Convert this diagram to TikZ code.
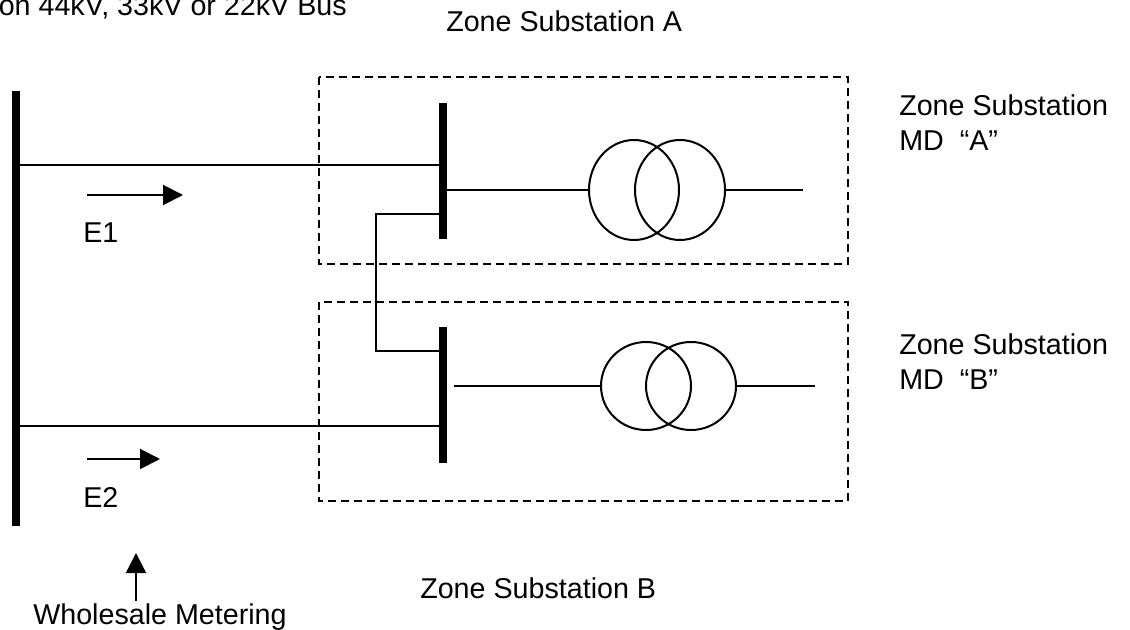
\documentclass[tikz,border=0pt]{standalone}
\usepackage{fontspec}
\setmainfont{Liberation Sans}
\usetikzlibrary{arrows,arrows.meta,shapes,positioning}

\begin{document}
\begin{tikzpicture}[x=0.75pt,y=-0.75pt]
    \tikzstyle{every node}+=[inner sep=0pt]
    \tikzstyle{txt}=[anchor=base west,font=\fontsize{21.5}{26}\selectfont]
    \tikzstyle{bus}=[fill=black,minimum width=6pt]
    \tikzstyle{wire}=[line width=1.5pt]
    \tikzstyle{zone}=[line width=1.5pt,dash pattern=on 6pt off 3.75pt]
    \tikzstyle{flow}=[line width=1.5pt,-{Triangle[length=15pt,width=15pt]}]
    \tikzstyle{tx}=[draw,ellipse,line width=1.5pt,minimum width=67.5pt,minimum height=75pt]
    \useasboundingbox (0,0) rectangle (1130,630);
    \clip (0,0) rectangle (1130,630);
    % zone boxes
    \draw[zone] (319,77) rectangle (848,264);
    \draw[zone] (319,302) rectangle (848,501);
    % bus bars
    \node[bus,minimum height=326.25pt] (busM) at (16,308.5) {};
    \node[bus,minimum height=102pt] (busA) at (443,171) {};
    \node[bus,minimum height=102pt] (busB) at (443,395) {};
    % transformers
    \node[tx] (tA1) at (634,190) {};
    \node[tx] (tA2) at (680,190) {};
    \node[tx,minimum height=66pt] (tB1) at (646,386) {};
    \node[tx,minimum height=66pt] (tB2) at (691,386) {};
    \coordinate (rowE1) at (0,165);
    \coordinate (rowE2) at (0,426);
    \coordinate (rowTie) at (0,214);
    \coordinate (tie) at (376,351);
    \coordinate (startB) at (454,386);
    \coordinate (endA) at (803,190);
    \coordinate (endB) at (815,386);
    % feeders
    \draw[wire] (busM |- rowE1) -- (busA |- rowE1);
    \draw[wire] (busM |- rowE2) -- (busB |- rowE2);
    \draw[wire] (busA |- rowTie) -| (tie) -- (busB |- tie);
    \draw[wire] (busA.center |- tA1) -- (tA1.west);
    \draw[wire] (tA2.east) -- (endA);
    \draw[wire] (startB) -- (tB1.west);
    \draw[wire] (tB2.east) -- (endB);
    % labels
    \node[txt,anchor=base east] (bus) at (347,16) {on 44kV, 33kV or 22kV Bus};
    \node[txt] (zsA) at (446,32) {Zone Substation A};
    \node[txt] (zsB) at (420,598) {Zone Substation B};
    \node[txt] (mdA1) at (899,116) {Zone Substation};
    \node[txt] (mdA2) at ([yshift=-26.25pt]mdA1.base west) {MD~~“A”};
    \node[txt] (mdB1) at (899,354) {Zone Substation};
    \node[txt] (mdB2) at ([yshift=-26.25pt]mdB1.base west) {MD~~“B”};
    \node[txt] (e1) at (83,243) {E1};
    \node[txt] (e2) at (83,507) {E2};
    \node[txt] (wm) at (33,624) {Wholesale Metering};
    % energy flow and metering arrows
    \coordinate (f1) at (87,195);
    \coordinate (f2) at (87,459);
    \coordinate (fm) at (136,601);
    \draw[flow] (f1) -- ++(96,0);
    \draw[flow] (f2) -- ++(73,0);
    \draw[flow] (fm) -- ++(0,-48);
\end{tikzpicture}
\end{document}
